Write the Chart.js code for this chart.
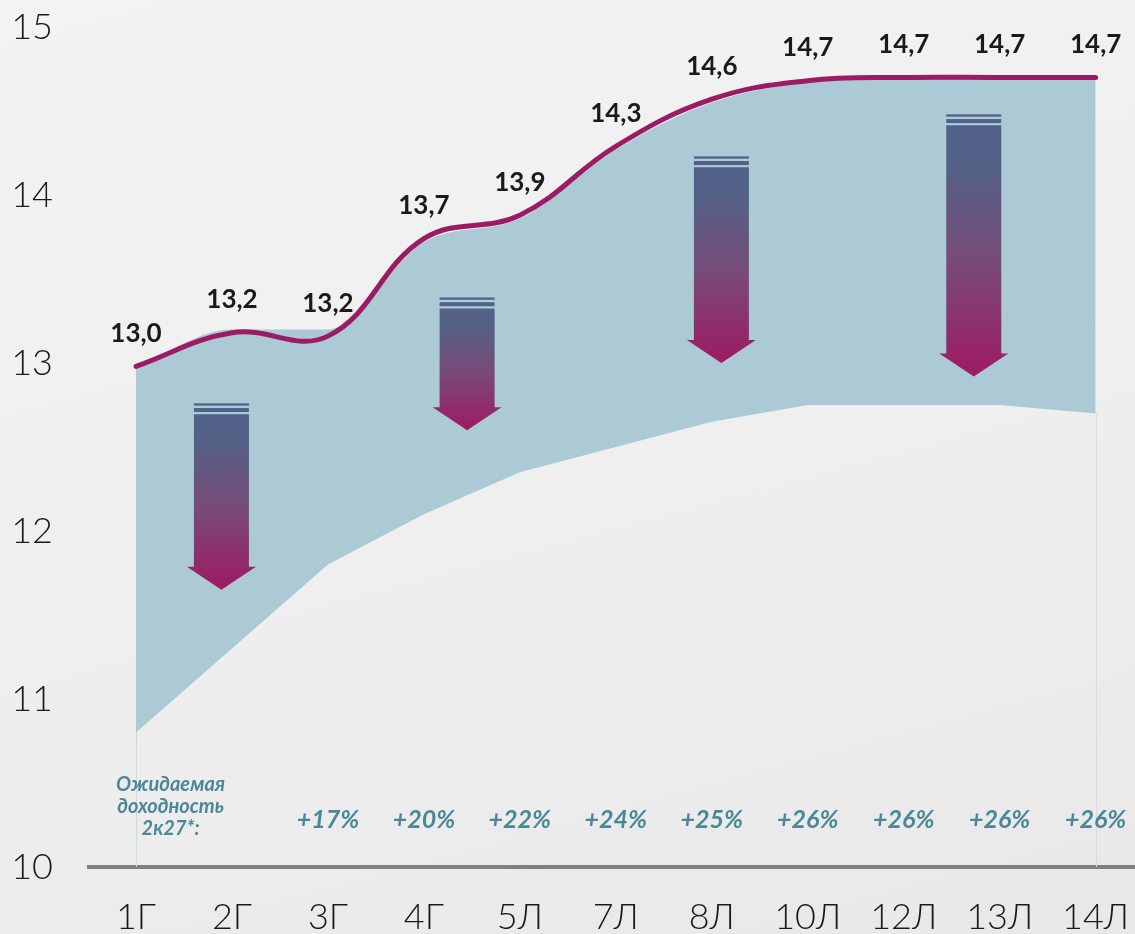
<!DOCTYPE html>
<html lang="ru">
<head>
<meta charset="utf-8">
<title>Ожидаемая доходность</title>
<script src="https://cdn.jsdelivr.net/npm/chart.js@4.4.1/dist/chart.umd.min.js"></script>
<style>
  html, body {
    margin: 0;
    padding: 0;
    width: 1135px;
    height: 934px;
    overflow: hidden;
    background: linear-gradient(165deg, #f3f3f3 0%, #eeeeee 60%, #e8e8e8 100%);
  }
  canvas { display: block; }
</style>
</head>
<body>
<canvas id="yieldChart" width="1135" height="934"></canvas>
<script>
// categories (maturities) and values
const categories = ["1Г", "2Г", "3Г", "4Г", "5Л", "7Л", "8Л", "10Л", "12Л", "13Л", "14Л"];
const lineValues = [12.98, 13.18, 13.16, 13.74, 13.88, 14.29, 14.57, 14.68, 14.7, 14.7, 14.7];
const bandHigh = [12.98, 13.2, 13.2, 13.72, 13.86, 14.27, 14.55, 14.67, 14.69, 14.69, 14.69];
const bandLow = [10.8, 11.3, 11.8, 12.1, 12.35, 12.5, 12.65, 12.75, 12.75, 12.75, 12.7];
const yieldLabels = ["", "", "+17%", "+20%", "+22%", "+24%", "+25%", "+26%", "+26%", "+26%", "+26%"];
const yTicks = [10, 11, 12, 13, 14, 15];

// arrows: position on the category axis, top and tip on the value axis
const arrowX = [0.89, 3.45, 6.1, 8.73];
const arrowTop = [12.76, 13.39, 14.23, 14.48];
const arrowTip = [11.65, 12.6, 13.0, 12.92];

const noteLines = ["Ожидаемая", "доходность", "2к27*:"];

const TEAL_TEXT = "#4b8798";
const LINE_COLOR = "#9c1b65";
const TICK_FONT = { family: "Lato, 'Noto Sans', sans-serif", size: 36, weight: "300" };

const fmt = v => v.toFixed(1).replace(".", ",");

const decorPlugin = {
    id: "decor",
    beforeDatasetsDraw(chart) {
        const { ctx, scales: { x, y } } = chart;
        ctx.save();
        ctx.lineWidth = 1;
        [[0, "#c6dbe2"], [categories.length - 1, "#dcdcdc"]].forEach(([i, c]) => {
            const px = Math.round(x.getPixelForValue(i)) + 0.5;
            ctx.strokeStyle = c;
            ctx.beginPath();
            ctx.moveTo(px, y.getPixelForValue(bandLow[i]));
            ctx.lineTo(px, y.getPixelForValue(10));
            ctx.stroke();
        });
        ctx.restore();
    },
    afterDatasetsDraw(chart) {
        const { ctx, chartArea, scales: { x, y } } = chart;
        ctx.save();

        // gradient arrows
        const sw = 55, hw = 69, hh = 23;
        arrowX.forEach((xv, k) => {
            const cx = x.getPixelForValue(xv);
            const top = y.getPixelForValue(arrowTop[k]);
            const tip = y.getPixelForValue(arrowTip[k]);
            const g = ctx.createLinearGradient(0, top, 0, tip);
            g.addColorStop(0, "#50628a");
            g.addColorStop(0.2, "#546186");
            g.addColorStop(0.55, "#774c79");
            g.addColorStop(1, "#9e1a63");
            ctx.fillStyle = g;
            ctx.fillRect(cx - sw / 2, top, sw, 2.3);
            ctx.fillRect(cx - sw / 2, top + 4.7, sw, 4);
            ctx.beginPath();
            ctx.moveTo(cx - sw / 2, top + 11);
            ctx.lineTo(cx + sw / 2, top + 11);
            ctx.lineTo(cx + sw / 2, tip - hh);
            ctx.lineTo(cx + hw / 2, tip - hh);
            ctx.lineTo(cx, tip);
            ctx.lineTo(cx - hw / 2, tip - hh);
            ctx.lineTo(cx - sw / 2, tip - hh);
            ctx.closePath();
            ctx.fill();
        });

        // value labels above the line
        ctx.fillStyle = "#1a1a1a";
        ctx.font = "bold 26px Lato, 'Noto Sans', sans-serif";
        ctx.textAlign = "center";
        ctx.textBaseline = "middle";
        lineValues.forEach((v, i) => {
            ctx.fillText(fmt(v), x.getPixelForValue(i), y.getPixelForValue(v) - 33);
        });

        // expected yield row
        ctx.fillStyle = TEAL_TEXT;
        ctx.font = "italic bold 25px Lato, 'Noto Sans', sans-serif";
        yieldLabels.forEach((t, i) => {
            if (t) ctx.fillText(t, x.getPixelForValue(i), chartArea.bottom - 47);
        });
        ctx.font = "italic bold 20px Lato, 'Noto Sans', sans-serif";
        const nx = x.getPixelForValue(0.36);
        noteLines.forEach((t, k) => {
            ctx.fillText(t, nx, chartArea.bottom - 82 + k * 22);
        });

        ctx.restore();
    }
};

const toPoints = arr => arr.map((v, i) => ({ x: i, y: v }));

const ctx = document.getElementById("yieldChart").getContext("2d");
new Chart(ctx, {
    type: "line",
    data: {
        datasets: [
            {
                label: "low",
                data: toPoints(bandLow),
                borderWidth: 0,
                pointRadius: 0,
                tension: 0,
                fill: false,
                order: 2
            },
            {
                label: "high",
                data: toPoints(bandHigh),
                borderWidth: 0,
                pointRadius: 0,
                cubicInterpolationMode: "monotone",
                backgroundColor: "#abcad5",
                fill: "-1",
                order: 1
            },
            {
                label: "Доходность",
                data: toPoints(lineValues),
                borderColor: LINE_COLOR,
                borderWidth: 5,
                borderCapStyle: "round",
                pointRadius: 0,
                tension: 0.4,
                fill: false,
                order: 0
            }
        ]
    },
    options: {
        responsive: false,
        animation: false,
        layout: { padding: { top: 27, left: 0, right: 0, bottom: 0 } },
        plugins: {
            legend: { display: false },
            tooltip: { enabled: false }
        },
        scales: {
            x: {
                type: "linear",
                min: -0.49,
                max: 10.41,
                afterBuildTicks: axis => { axis.ticks = categories.map((c, i) => ({ value: i })); },
                afterFit: axis => {
                    axis.height = 67;
                    axis.paddingLeft = 0;
                    axis.paddingRight = 0;
                },
                grid: { display: false, drawTicks: false },
                border: { display: true, color: "#808080", width: 4 },
                ticks: {
                    callback: v => categories[v],
                    color: "#1a1a1a",
                    font: TICK_FONT,
                    padding: 29,
                    autoSkip: false,
                    maxRotation: 0
                }
            },
            y: {
                min: 10,
                max: 15,
                afterBuildTicks: axis => { axis.ticks = yTicks.map(v => ({ value: v })); },
                afterFit: axis => {
                    axis.width = 89;
                    axis.paddingTop = 0;
                    axis.paddingBottom = 0;
                },
                grid: { display: false, drawTicks: false },
                border: { display: false },
                ticks: {
                    color: "#1a1a1a",
                    font: TICK_FONT,
                    padding: 36
                }
            }
        }
    },
    plugins: [decorPlugin]
});
</script>
</body>
</html>
